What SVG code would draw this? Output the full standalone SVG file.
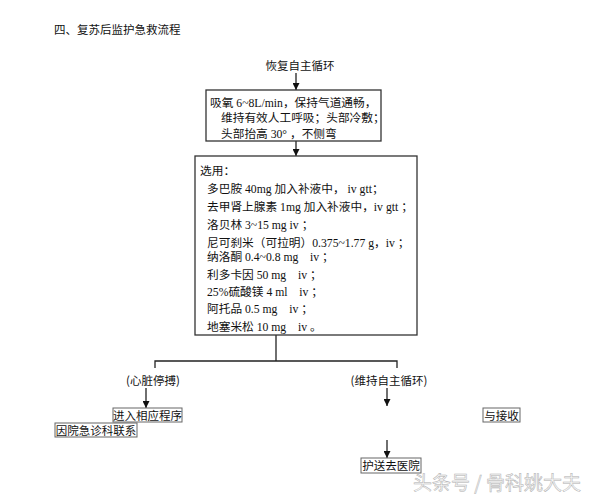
<svg xmlns="http://www.w3.org/2000/svg" width="595" height="500" viewBox="0 0 595 500">
<defs>
<style>
.cjk{font-family:"Noto Sans CJK SC","Noto Sans",sans-serif;font-size:11.5px;fill:#111}
.mix{font-family:"Liberation Serif","Noto Sans CJK SC",serif;font-size:11.7px;fill:#111}
.box{fill:#fff;stroke:#333;stroke-width:1.3}
.sbox{fill:#fff;stroke:#666;stroke-width:1}
.ln{fill:none;stroke:#222;stroke-width:1.3}
.wm{font-family:"Noto Sans CJK SC",sans-serif;font-size:19px;fill:#f7f7f7;stroke:#b0b0b0;stroke-width:0.5}
</style>
<marker id="ah" viewBox="0 0 8 8" refX="8" refY="4" markerWidth="7" markerHeight="7" markerUnits="userSpaceOnUse" orient="auto">
<path d="M0,0 L8,4 L0,8 Z" fill="#111"/>
</marker>
</defs>
<rect width="595" height="500" fill="#fff"/>
<text class="cjk" x="54" y="34">四、复苏后监护急救流程</text>

<g id="connectors">
<line class="ln" x1="296" y1="73" x2="296" y2="90" marker-end="url(#ah)"/>
<line class="ln" x1="296" y1="141" x2="296" y2="156" marker-end="url(#ah)"/>
<polyline class="ln" points="276,335 276,361"/>
<polyline class="ln" points="155,368 155,361 397,361 397,368"/>
<line class="ln" x1="146" y1="388" x2="146" y2="408" marker-end="url(#ah)"/>
<line class="ln" x1="387" y1="388" x2="387" y2="406" marker-end="url(#ah)"/>
<line class="ln" x1="387" y1="440" x2="387" y2="458" marker-end="url(#ah)"/>
</g>

<g id="n-start">
<text class="cjk" x="300" y="70" text-anchor="middle">恢复自主循环</text>
</g>

<g id="n-box1">
<rect class="box" x="206" y="90" width="175" height="51"/>
<text class="mix" x="210" y="106.5">吸氧 6~8L/min，保持气道通畅，</text>
<text class="mix" x="221" y="122">维持有效人工呼吸；头部冷敷；</text>
<text class="mix" x="221" y="138">头部抬高 30° ，不侧弯</text>
</g>

<g id="n-box2">
<rect class="box" x="195" y="156" width="222" height="179"/>
<text class="mix" x="200" y="174.5">选用：</text>
<text class="mix" x="207" y="192.5">多巴胺 40mg 加入补液中， iv gtt；</text>
<text class="mix" x="207" y="211">去甲肾上腺素 1mg 加入补液中，iv gtt ；</text>
<text class="mix" x="207" y="229">洛贝林 3~15 mg iv ；</text>
<text class="mix" x="207" y="246.5">尼可刹米（可拉明）0.375~1.77 g，iv ；</text>
<text class="mix" x="207" y="261">纳洛酮 0.4~0.8 mg　iv ；</text>
<text class="mix" x="207" y="278.5">利多卡因 50 mg　iv ；</text>
<text class="mix" x="207" y="296">25%硫酸镁 4 ml　iv ；</text>
<text class="mix" x="207" y="312.5">阿托品 0.5 mg　iv ；</text>
<text class="mix" x="207" y="331">地塞米松 10 mg　iv 。</text>
</g>

<g id="n-arrest">
<text class="cjk" x="153" y="385" text-anchor="middle">(心脏停搏)</text>
</g>
<g id="n-maintain">
<text class="cjk" x="389" y="385" text-anchor="middle">(维持自主循环)</text>
</g>

<g id="n-enter">
<rect class="sbox" x="113" y="408" width="69" height="14"/>
<text class="cjk" x="147.5" y="419.5" text-anchor="middle">进入相应程序</text>
</g>
<g id="n-contact">
<rect class="sbox" x="55" y="423" width="82" height="14"/>
<text class="cjk" x="96" y="434.5" text-anchor="middle">因院急诊科联系</text>
</g>
<g id="n-receive">
<rect class="sbox" x="483" y="408" width="37" height="14"/>
<text class="cjk" x="501.5" y="419.5" text-anchor="middle">与接收</text>
</g>
<g id="n-transport">
<rect class="sbox" x="361" y="458" width="60" height="15"/>
<text class="cjk" x="391" y="470" text-anchor="middle">护送去医院</text>
</g>

<text class="wm" x="497" y="490" text-anchor="middle">头条号 / 骨科姚大夫</text>
</svg>
